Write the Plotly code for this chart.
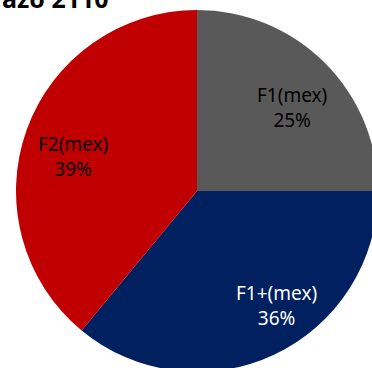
import math
import plotly.graph_objects as go

labels = ["F1(mex)", "F1+(mex)", "F2(mex)"]
values = [25, 36, 39]
colors = ["#595959", "#002060", "#C00000"]
text_colors = ["#000000", "#FFFFFF", "#000000"]
title_text = "azo 2110"

# label placement style: radial distance (fraction of radius) and angular nudge (deg)
label_radius = [0.70, 0.77, 0.71]
label_nudge = [3.5, -9.5, -4.0]

fig = go.Figure(go.Pie(
    labels=labels,
    values=values,
    sort=False,
    direction="clockwise",
    rotation=0,
    marker=dict(colors=colors, line=dict(width=0)),
    textinfo="none",
    showlegend=False,
    hoverinfo="skip",
))

# label positions derived from the slice geometry (mid-angle of each slice)
total = sum(values)
annotations = []
cum = 0.0
for lab, val, tc, rr, nd in zip(labels, values, text_colors, label_radius, label_nudge):
    mid = (cum + val / 2) / total * 360 + nd
    cum += val
    a = math.radians(mid)
    x = 0.5 + 0.5 * rr * math.sin(a)
    y = 0.5 + 0.5 * rr * math.cos(a)
    pct = round(val / total * 100)
    annotations.append(dict(
        text=f"{lab}<br>{pct}%",
        xref="paper", yref="paper", x=x, y=y,
        xanchor="center", yanchor="middle",
        showarrow=False,
        font=dict(family="Noto Sans", size=19, color=tc),
    ))

annotations.append(dict(
    text="<b>" + title_text + "</b>",
    xref="paper", yref="paper",
    x=-16/362, y=1 + 31.5/362,
    xanchor="left", yanchor="top",
    showarrow=False,
    font=dict(family="Noto Sans", size=25, color="#000000"),
))

fig.update_layout(
    width=378, height=372,
    margin=dict(l=16, r=0, t=10, b=0),
    paper_bgcolor="white",
    plot_bgcolor="white",
    annotations=annotations,
)

fig.write_html(
    "out.html",
    config={"displayModeBar": False},
    post_script="document.documentElement.style.overflow='hidden';document.body.style.overflow='hidden';document.body.style.margin='0';",
)
